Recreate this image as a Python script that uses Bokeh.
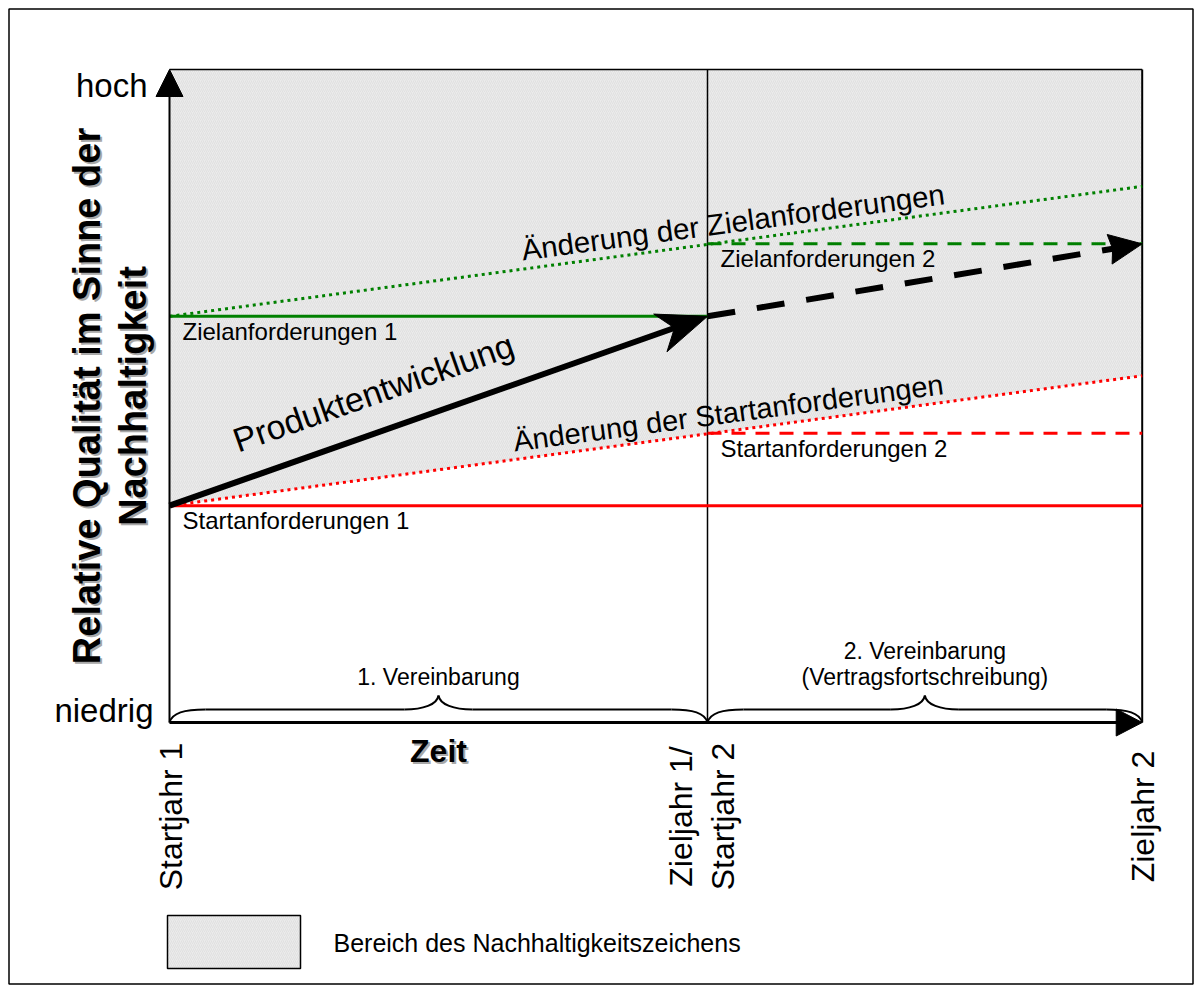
import math
from bokeh.plotting import figure
from bokeh.models import Range1d, Grid
from bokeh.core.properties import value
from bokeh.embed import file_html
from bokeh.resources import INLINE

# ---------------- data ----------------
time_ticks = [0, 10, 18.08]
time_labels = ["Startjahr 1", "Zieljahr 1/\nStartjahr 2", "Zieljahr 2"]
quality_ticks = [0, 10]
quality_labels = ["niedrig", "hoch"]
start_req = [3.32, 4.43]        # Startanforderungen 1 / 2
target_req = [6.22, 7.33]       # Zielanforderungen 1 / 2
start_trend = [3.32, 5.31]      # Änderung der Startanforderungen (Startjahr 1 -> Zieljahr 2)
target_trend = [6.22, 8.21]     # Änderung der Zielanforderungen
product = [3.32, 6.22, 7.33]    # Produktentwicklung at the three time ticks
start_labels = ["Startanforderungen 1", "Startanforderungen 2"]
target_labels = ["Zielanforderungen 1", "Zielanforderungen 2"]
trend_labels = ["Änderung der Startanforderungen", "Änderung der Zielanforderungen"]
product_label = "Produktentwicklung"
phase_labels = ["1. Vereinbarung", "2. Vereinbarung\n(Vertragsfortschreibung)"]
x_title = "Zeit"
y_title = ["Relative Qualität im Sinne der", "Nachhaltigkeit"]
legend_label = "Bereich des Nachhaltigkeitszeichens"

# ---------------- layout ----------------
W, H = 1201, 992
XPX, YPX = 53.8, 65.3          # pixels per data unit
OX, OY = 169, 722              # origin position inside canvas (from left / top)
FONT = value("Liberation Sans")
RED, GREEN = "#ff0000", "#008000"
SHADE, HATCH = "#ebebeb", "#d8d8d8"


def dx(px):
    return (px - OX) / XPX


def dy(py):
    return (OY - py) / YPX


p = figure(width=W, height=H,
           x_range=Range1d(dx(0), dx(W)), y_range=Range1d(dy(H), dy(0)),
           output_backend="svg", toolbar_location=None,
           x_axis_location=None, y_axis_location=None, min_border=0,
           outline_line_color=None,
           background_fill_color="white", border_fill_color="white")
for r in list(p.center):
    if isinstance(r, Grid):
        r.visible = False

x0, xm, xe = time_ticks
ytop = quality_ticks[-1]

# outer border of the drawing
p.quad(left=[dx(8.5)], right=[dx(1192.5)], top=[dy(8.5)], bottom=[dy(983.5)],
       fill_color=None, line_color="black", line_width=1.5)


def head(xt, yt, xf, yf, length, half, notch=0.0):
    ddx, ddy = (xt - xf) * XPX, (yt - yf) * YPX
    n = math.hypot(ddx, ddy)
    ux, uy = ddx / n, ddy / n
    nx, ny = -uy, ux
    pts = [(0, 0),
           (-ux * length + nx * half, -uy * length + ny * half),
           (-ux * (length - notch), -uy * (length - notch)),
           (-ux * length - nx * half, -uy * length - ny * half)]
    xs = [xt + a / XPX for a, b in pts]
    ys = [yt + b / YPX for a, b in pts]
    back = length - notch - 2
    return xs, ys, (xt - ux * back / XPX, yt - uy * back / YPX)


# shaded area (Bereich des Nachhaltigkeitszeichens)
p.patch([x0, xe, xe, x0], [ytop, ytop, start_trend[1], start_trend[0]],
        fill_color=SHADE, hatch_pattern="/", hatch_color=HATCH,
        hatch_scale=4, hatch_weight=0.6, line_color=None)

# frame lines
p.segment(x0=[x0, xm, xe], y0=[ytop, 0, 0], x1=[xe, xm, xe], y1=[ytop, ytop, ytop],
          line_color="black", line_width=[1.5, 1.5, 2])

# requirement lines
p.line([x0, xe], [start_req[0]] * 2, line_color=RED, line_width=3)
p.line([x0, xm], [target_req[0]] * 2, line_color=GREEN, line_width=3)
p.line([xm, xe], [start_req[1]] * 2, line_color=RED, line_width=3, line_dash="14 10")
p.line([xm, xe], [target_req[1]] * 2, line_color=GREEN, line_width=3, line_dash="14 10")
p.line([x0, xe], start_trend, line_color=RED, line_width=3, line_dash="3 4")
p.line([x0, xe], target_trend, line_color=GREEN, line_width=3, line_dash="3 4")

# product development arrows
hx, hy, shaft = head(xm, product[1], x0, product[0], 50, 20, 15)
p.line([x0, shaft[0]], [product[0], shaft[1]], line_color="black", line_width=6)
p.patch(hx, hy, fill_color="black", line_color="black", line_width=1)
hx2, hy2, shaft2 = head(xe, product[2], xm, product[1], 33, 15, 3)
p.line([xm, shaft2[0]], [product[1], shaft2[1]], line_color="black", line_width=6,
       line_dash="28 22", line_cap="butt")
p.patch(hx2, hy2, fill_color="black", line_color="black", line_width=1)

# axes with arrow heads
vx, vy, vs = head(x0, ytop, x0, 0, 27, 13.5)
p.line([x0, x0], [0, vs[1]], line_color="black", line_width=2)
p.patch(vx, vy, fill_color="black", line_color="black")
ax, ay, as_ = head(xe, 0, x0, 0, 26, 13.5)
p.line([x0, as_[0]], [0, 0], line_color="black", line_width=3)
p.patch(ax, ay, fill_color="black", line_color="black")

# curly braces
bz = dict(x0=[], y0=[], x1=[], y1=[], cx0=[], cy0=[], cx1=[], cy1=[])
sx0, sy0, sx1, sy1 = [], [], [], []
h1, h2 = 13 / YPX, 27 / YPX
r1, r2 = 36 / XPX, 34 / XPX
for xa, xb in [(x0, xm), (xm, xe)]:
    xc = (xa + xb) / 2
    segs = [(xa, 0, xa + r1, h1, xa + 0.08 * r1, 0.75 * h1, xa + 0.4 * r1, h1),
            (xc - r2, h1, xc, h2, xc - 0.45 * r2, h1, xc - 0.04 * r2, h1 + 0.35 * (h2 - h1)),
            (xc + r2, h1, xc, h2, xc + 0.45 * r2, h1, xc + 0.04 * r2, h1 + 0.35 * (h2 - h1)),
            (xb, 0, xb - r1, h1, xb - 0.08 * r1, 0.75 * h1, xb - 0.4 * r1, h1)]
    for s in segs:
        for k, v in zip(["x0", "y0", "x1", "y1", "cx0", "cy0", "cx1", "cy1"], s):
            bz[k].append(v)
    sx0 += [xa + r1, xc + r2]; sx1 += [xc - r2, xb - r1]
    sy0 += [h1, h1]; sy1 += [h1, h1]
p.bezier(line_color="black", line_width=2, **bz)
p.segment(x0=sx0, y0=sy0, x1=sx1, y1=sy1, line_color="black", line_width=2)

# ---------------- texts ----------------
TXT = dict(text_font=FONT, text_baseline="middle", text_color="black")

# x tick labels (rotated)
tx, ty, tt, txo = [], [], [], []
for tick, lab in zip(time_ticks, time_labels):
    lines = lab.split("\n")
    n = len(lines)
    for i, ln in enumerate(lines):
        tx.append(tick); ty.append(-94 / YPX); tt.append(ln)
        txo.append(1 - 28 * (n - 1) + 42 * i)
p.text(x=tx, y=ty, text=tt, x_offset=txo, angle=math.pi / 2, text_align="center",
       text_font_size=value("32px"), **TXT)

# y tick labels
p.text(x=[0, 0], y=quality_ticks, text=quality_labels, x_offset=[-16, -22], y_offset=[-12, 16],
       text_align="right", text_font_size=value("33px"), **TXT)

# axis titles with shadow
for col, d in [("#a8a8a8", 2), ("black", 0)]:
    p.text(x=[0, 0], y=[ytop / 2] * 2, text=y_title, x_offset=[-83 + d, -37 + d], y_offset=[d, d],
           angle=math.pi / 2, text_align="center", text_font=FONT, text_baseline="middle",
           text_font_style="bold", text_font_size=value("38px"), text_color=col)
    p.text(x=[xm / 2], y=[0], text=[x_title], x_offset=[d], y_offset=[28 + d],
           text_align="center", text_font=FONT, text_baseline="middle",
           text_font_style="bold", text_font_size=value("32px"), text_color=col)

# requirement labels
p.text(x=[x0, xm, x0, xm], y=start_req + target_req, text=start_labels + target_labels,
       x_offset=13, y_offset=15, text_align="left", text_font_size=value("24px"), **TXT)

# trend labels (rotated along lines)
for trend, lab, xc, d, fs in [(start_trend, trend_labels[0], 10.43, 18, "29px"),
                              (target_trend, trend_labels[1], 10.52, 19, "29.5px")]:
    th = math.atan2((trend[1] - trend[0]) * YPX, (xe - x0) * XPX)
    yc = trend[0] + (trend[1] - trend[0]) * (xc - x0) / (xe - x0)
    p.text(x=[xc], y=[yc], text=[lab], angle=th,
           x_offset=-d * math.sin(th), y_offset=-d * math.cos(th),
           text_align="center", text_font_size=value(fs), **TXT)

# product label
th = math.atan2((product[1] - product[0]) * YPX, (xm - x0) * XPX)
xc = 4.03
yc = product[0] + (product[1] - product[0]) * (xc - x0) / (xm - x0)
d = 39
p.text(x=[xc], y=[yc], text=[product_label], angle=th,
       x_offset=-d * math.sin(th), y_offset=-d * math.cos(th),
       text_align="center", text_font_size=value("34px"), **TXT)

# phase labels above braces
bx, by, bt, byo = [], [], [], []
for (xa, xb), lab in zip([(x0, xm), (xm, xe)], phase_labels):
    lines = lab.split("\n")
    n = len(lines)
    for i, ln in enumerate(lines):
        bx.append((xa + xb) / 2); by.append(0); bt.append(ln)
        byo.append(-46 - 26 * (n - 1 - i))
p.text(x=bx, y=by, text=bt, y_offset=byo, text_align="center",
       text_font_size=value("23px"), **TXT)

# legend (swatch + label)
p.quad(left=[dx(167)], right=[dx(300)], top=[dy(915)], bottom=[dy(968)],
       fill_color=SHADE, hatch_pattern="/", hatch_color=HATCH, hatch_scale=4, hatch_weight=0.6,
       line_color="black", line_width=1.5)
p.text(x=[dx(333)], y=[dy(942)], text=[legend_label], text_align="left",
       text_font_size=value("25px"), **TXT)

open("out.html", "w").write(file_html(p, INLINE))
